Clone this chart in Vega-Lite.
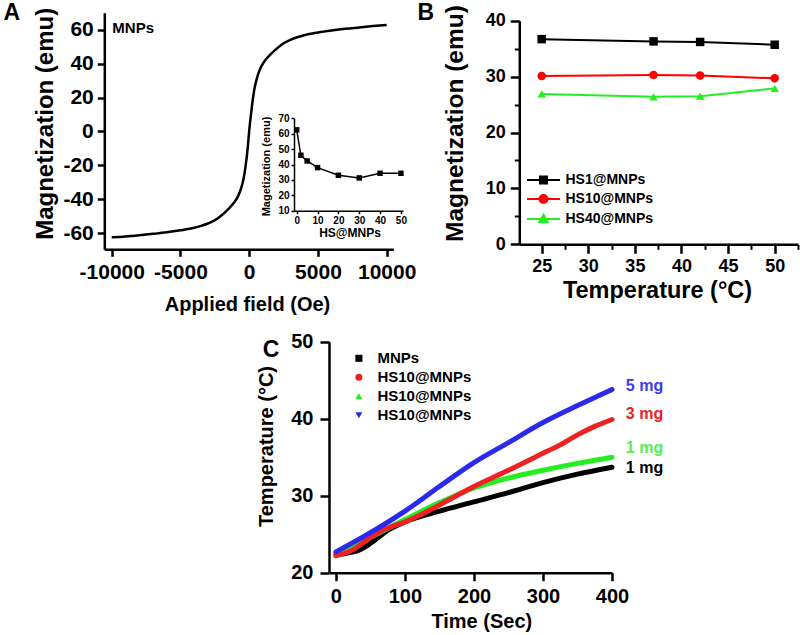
{
  "$schema": "https://vega.github.io/schema/vega-lite/v6.json",
  "width": 800,
  "height": 635,
  "autosize": {"type": "none"},
  "padding": 0,
  "background": "white",
  "config": {
    "view": {"stroke": null},
    "font": "Liberation Sans",
    "axis": {"grid": false, "domainColor": "black", "tickColor": "black", "labelColor": "black", "titleColor": "black", "labelFont": "Liberation Sans", "titleFont": "Liberation Sans", "labelFontWeight": "bold", "titleFontWeight": "bold", "labelFlush": false, "labelOverlap": false, "labelBound": false, "titleBaseline": "middle"},
    "legend": {"labelFont": "Liberation Sans", "labelFontWeight": "bold", "labelColor": "black", "padding": 0},
    "text": {"font": "Liberation Sans", "fontWeight": "bold", "color": "black"}
  },
  "datasets": {
    "magA": [
      {"H": -10000, "M": -62.4}, {"H": -9000, "M": -61.9}, {"H": -8000, "M": -61.2}, {"H": -7000, "M": -60.4}, {"H": -6000, "M": -59.5}, {"H": -5000, "M": -58.3}, {"H": -4000, "M": -56.8}, {"H": -3500, "M": -55.7}, {"H": -3000, "M": -54.3}, {"H": -2500, "M": -52.4}, {"H": -2000, "M": -49.4}, {"H": -1500, "M": -45.6}, {"H": -1250, "M": -43.4}, {"H": -1000, "M": -40.8}, {"H": -800, "M": -38.0}, {"H": -600, "M": -33.8}, {"H": -500, "M": -31.0}, {"H": -400, "M": -27.5}, {"H": -300, "M": -22.5}, {"H": -200, "M": -16.5}, {"H": -100, "M": -9.0}, {"H": 0, "M": 0.5}, {"H": 100, "M": 8.0}, {"H": 200, "M": 15.0}, {"H": 300, "M": 21.0}, {"H": 400, "M": 26.0}, {"H": 500, "M": 29.5}, {"H": 600, "M": 32.5}, {"H": 800, "M": 37.0}, {"H": 1000, "M": 40.0}, {"H": 1250, "M": 42.8}, {"H": 1500, "M": 45.0}, {"H": 2000, "M": 48.8}, {"H": 2500, "M": 52.0}, {"H": 3000, "M": 54.0}, {"H": 3500, "M": 55.5}, {"H": 4000, "M": 56.7}, {"H": 5000, "M": 58.3}, {"H": 6000, "M": 59.5}, {"H": 7000, "M": 60.5}, {"H": 8000, "M": 61.3}, {"H": 9000, "M": 62.1}, {"H": 10000, "M": 62.8}
    ],
    "annA": [{"H": -9956, "M": 61.0, "label": "MNPs"}],
    "letterA": [{"H": -17273, "M": 69.6, "label": "A"}],
    "inset": [
      {"n": 0, "Mi": 62.5}, {"n": 2, "Mi": 46.0}, {"n": 5, "Mi": 42.3}, {"n": 10, "Mi": 38.0}, {"n": 20, "Mi": 33.0}, {"n": 30, "Mi": 31.3}, {"n": 40, "Mi": 34.3}, {"n": 50, "Mi": 34.3}
    ],
    "tempB": [
      {"T": 25, "M": 36.7, "s": "HS1@MNPs"}, {"T": 37, "M": 36.3, "s": "HS1@MNPs"}, {"T": 42, "M": 36.2, "s": "HS1@MNPs"}, {"T": 50, "M": 35.7, "s": "HS1@MNPs"},
      {"T": 25, "M": 30.1, "s": "HS10@MNPs"}, {"T": 37, "M": 30.3, "s": "HS10@MNPs"}, {"T": 42, "M": 30.2, "s": "HS10@MNPs"}, {"T": 50, "M": 29.7, "s": "HS10@MNPs"},
      {"T": 25, "M": 26.9, "s": "HS40@MNPs"}, {"T": 37, "M": 26.4, "s": "HS40@MNPs"}, {"T": 42, "M": 26.5, "s": "HS40@MNPs"}, {"T": 50, "M": 27.9, "s": "HS40@MNPs"}
    ],
    "letterB": [{"T": 12.56, "M": 41.4, "label": "B"}],
    "heatC": [
      {"t": 0, "T": 22.3, "s": "MNPs 1 mg"}, {"t": 20, "T": 22.6, "s": "MNPs 1 mg"}, {"t": 35, "T": 23.0, "s": "MNPs 1 mg"}, {"t": 50, "T": 23.8, "s": "MNPs 1 mg"}, {"t": 75, "T": 25.5, "s": "MNPs 1 mg"}, {"t": 100, "T": 26.6, "s": "MNPs 1 mg"}, {"t": 150, "T": 28.0, "s": "MNPs 1 mg"}, {"t": 200, "T": 29.2, "s": "MNPs 1 mg"}, {"t": 250, "T": 30.4, "s": "MNPs 1 mg"}, {"t": 300, "T": 31.7, "s": "MNPs 1 mg"}, {"t": 350, "T": 32.8, "s": "MNPs 1 mg"}, {"t": 400, "T": 33.7, "s": "MNPs 1 mg"},
      {"t": 0, "T": 22.4, "s": "HS10@MNPs 1 mg"}, {"t": 50, "T": 24.6, "s": "HS10@MNPs 1 mg"}, {"t": 100, "T": 26.9, "s": "HS10@MNPs 1 mg"}, {"t": 150, "T": 29.1, "s": "HS10@MNPs 1 mg"}, {"t": 200, "T": 31.0, "s": "HS10@MNPs 1 mg"}, {"t": 250, "T": 32.3, "s": "HS10@MNPs 1 mg"}, {"t": 300, "T": 33.3, "s": "HS10@MNPs 1 mg"}, {"t": 350, "T": 34.2, "s": "HS10@MNPs 1 mg"}, {"t": 400, "T": 35.0, "s": "HS10@MNPs 1 mg"},
      {"t": 0, "T": 22.2, "s": "HS10@MNPs 3 mg"}, {"t": 25, "T": 23.0, "s": "HS10@MNPs 3 mg"}, {"t": 50, "T": 24.6, "s": "HS10@MNPs 3 mg"}, {"t": 75, "T": 25.8, "s": "HS10@MNPs 3 mg"}, {"t": 100, "T": 26.6, "s": "HS10@MNPs 3 mg"}, {"t": 150, "T": 28.8, "s": "HS10@MNPs 3 mg"}, {"t": 200, "T": 31.2, "s": "HS10@MNPs 3 mg"}, {"t": 250, "T": 33.3, "s": "HS10@MNPs 3 mg"}, {"t": 300, "T": 35.5, "s": "HS10@MNPs 3 mg"}, {"t": 325, "T": 36.6, "s": "HS10@MNPs 3 mg"}, {"t": 350, "T": 37.9, "s": "HS10@MNPs 3 mg"}, {"t": 375, "T": 39.0, "s": "HS10@MNPs 3 mg"}, {"t": 400, "T": 39.9, "s": "HS10@MNPs 3 mg"},
      {"t": 0, "T": 22.7, "s": "HS10@MNPs 5 mg"}, {"t": 50, "T": 25.2, "s": "HS10@MNPs 5 mg"}, {"t": 100, "T": 28.0, "s": "HS10@MNPs 5 mg"}, {"t": 150, "T": 31.2, "s": "HS10@MNPs 5 mg"}, {"t": 200, "T": 34.3, "s": "HS10@MNPs 5 mg"}, {"t": 250, "T": 36.9, "s": "HS10@MNPs 5 mg"}, {"t": 300, "T": 39.5, "s": "HS10@MNPs 5 mg"}, {"t": 350, "T": 41.7, "s": "HS10@MNPs 5 mg"}, {"t": 400, "T": 43.8, "s": "HS10@MNPs 5 mg"}
    ],
    "labelsC": [
      {"t": 420, "T": 44.2, "label": "5 mg", "s": "HS10@MNPs 5 mg"},
      {"t": 420, "T": 40.6, "label": "3 mg", "s": "HS10@MNPs 3 mg"},
      {"t": 420, "T": 36.2, "label": "1 mg", "s": "HS10@MNPs 1 mg"},
      {"t": 420, "T": 33.6, "label": "1 mg", "s": "MNPs 1 mg"}
    ],
    "letterC": [{"t": -94, "T": 48.9, "label": "C"}]
  },
  "resolve": {"scale": {"x": "independent", "y": "independent", "stroke": "independent", "fill": "independent", "shape": "independent", "color": "independent"}},
  "layer": [
    {
      "encoding": {
        "x": {"field": "H", "type": "quantitative",
          "scale": {"domain": [-10540, 10480], "range": [104.3, 393.3], "nice": false, "zero": false},
          "axis": {"orient": "bottom", "offset": -385.7, "values": [-10000, -5000, 0, 5000, 10000], "labelExpr": "'' + datum.value", "labelFontSize": 21, "labelPadding": 5, "tickSize": 7, "tickWidth": 2.5, "domainWidth": 2.5, "title": "Applied field (Oe)", "titleFontSize": 20, "titleX": 247, "titleY": 55.5}},
        "y": {"field": "M", "type": "quantitative",
          "scale": {"domain": [-69.5, 70], "range": [249.3, 12.7], "nice": false, "zero": false},
          "axis": {"orient": "left", "offset": -104.3, "values": [-60, -40, -20, 0, 20, 40, 60], "labelExpr": "'' + datum.value", "labelFontSize": 21, "labelPadding": 4, "tickSize": 7, "tickWidth": 2.5, "domainWidth": 2.5, "title": "Magnetization (emu)", "titleFontSize": 24, "titleX": -59.3, "titleY": 123.3}}
      },
      "layer": [
        {"data": {"name": "magA"}, "mark": {"type": "line", "color": "black", "strokeWidth": 2.5, "interpolate": "monotone"}},
        {"data": {"name": "annA"}, "mark": {"type": "text", "align": "left", "fontSize": 15}, "encoding": {"text": {"field": "label"}}},
        {"data": {"name": "letterA"}, "mark": {"type": "text", "fontSize": 23}, "encoding": {"text": {"field": "label"}}}
      ]
    },
    {
      "data": {"name": "inset"},
      "encoding": {
        "x": {"field": "n", "type": "quantitative",
          "scale": {"domain": [-1.3, 51], "range": [294, 403], "nice": false, "zero": false},
          "axis": {"orient": "bottom", "offset": -424.3, "values": [0, 10, 20, 30, 40, 50], "labelFontSize": 10, "labelPadding": 2, "tickSize": 3, "tickWidth": 1.5, "domainWidth": 1.5, "title": "HS@MNPs", "titleFontSize": 12, "titleX": 349.5, "titleY": 22}},
        "y": {"field": "Mi", "type": "quantitative",
          "scale": {"domain": [10, 70], "range": [210.7, 118.3], "nice": false, "zero": false},
          "axis": {"orient": "left", "offset": -294, "values": [10, 20, 30, 40, 50, 60, 70], "labelFontSize": 10, "labelPadding": 2, "tickSize": 3, "tickWidth": 1.5, "domainWidth": 1.5, "title": "Magetization (emu)", "titleFontSize": 11, "titleX": -27.3, "titleY": 166}}
      },
      "layer": [
        {"mark": {"type": "line", "color": "black", "strokeWidth": 1.5}},
        {"mark": {"type": "point", "shape": "square", "filled": true, "color": "black", "size": 30, "opacity": 1}}
      ]
    },
    {
      "encoding": {
        "x": {"field": "T", "type": "quantitative",
          "scale": {"domain": [22.6, 52.5], "range": [519.3, 798], "nice": false, "zero": false},
          "axis": {"orient": "bottom", "offset": -390.7, "values": [25, 30, 35, 40, 45, 50], "labelFontSize": 18, "labelPadding": 4, "tickSize": 9, "tickWidth": 2.5, "domainWidth": 2.5, "title": "Temperature (°C)", "titleFontSize": 23.5, "titleX": 657, "titleY": 46.5}},
        "y": {"field": "M", "type": "quantitative",
          "scale": {"domain": [0, 40], "range": [244.3, 20.7], "nice": false, "zero": false},
          "axis": {"orient": "left", "offset": -519.3, "values": [0, 10, 20, 30, 40], "labelFontSize": 18, "labelPadding": 5, "tickSize": 9, "tickWidth": 2.5, "domainWidth": 2.5, "title": "Magnetization (emu)", "titleFontSize": 24.5, "titleX": -64.3, "titleY": 123}}
      },
      "layer": [
        {"data": {"name": "tempB"}, "transform": [{"filter": "datum.T < 0"}], "mark": {"type": "point", "filled": true, "size": 100, "opacity": 1, "strokeWidth": 2},
          "encoding": {
            "stroke": {"field": "s", "type": "nominal",
              "scale": {"domain": ["HS1@MNPs", "HS10@MNPs", "HS40@MNPs"], "range": ["#000000", "#ff0000", "#22ee22"]},
              "legend": {"orient": "none", "legendX": 536.5, "legendY": 173, "title": null, "symbolSize": 100, "symbolStrokeWidth": 2, "labelFontSize": 14, "labelOffset": 15, "rowPadding": 3}},
            "fill": {"field": "s", "type": "nominal",
              "scale": {"domain": ["HS1@MNPs", "HS10@MNPs", "HS40@MNPs"], "range": ["#000000", "#ff0000", "#22ee22"]},
              "legend": {"orient": "none", "legendX": 536.5, "legendY": 173, "title": null, "symbolSize": 100, "symbolStrokeWidth": 2, "labelFontSize": 14, "labelOffset": 15, "rowPadding": 3}},
            "shape": {"field": "s", "type": "nominal",
              "scale": {"domain": ["HS1@MNPs", "HS10@MNPs", "HS40@MNPs"], "range": ["M-3.3,0H3.3M-0.7,-0.7H0.7V0.7H-0.7Z", "M-3.3,0H3.3M-0.8,0A0.8,0.8,0,1,1,0.8,0A0.8,0.8,0,1,1,-0.8,0Z", "M-3.3,0H3.3M0,-0.85L0.85,0.65H-0.85Z"]},
              "legend": {"orient": "none", "legendX": 536.5, "legendY": 173, "title": null, "symbolSize": 100, "symbolStrokeWidth": 2, "labelFontSize": 14, "labelOffset": 15, "rowPadding": 3}}}},
        {"data": {"name": "letterB"}, "mark": {"type": "text", "fontSize": 23}, "encoding": {"text": {"field": "label"}}}
      ]
    },
    {
      "data": {"name": "tempB"},
      "encoding": {
        "x": {"field": "T", "type": "quantitative",
          "scale": {"domain": [22.6, 52.5], "range": [519.3, 798], "nice": false, "zero": false},
          "axis": {"orient": "bottom", "offset": -390.7, "values": [27.5, 32.5, 37.5, 42.5, 47.5, 52.5], "labels": false, "domain": false, "tickSize": 5, "tickWidth": 2, "title": null}},
        "y": {"field": "M", "type": "quantitative",
          "scale": {"domain": [0, 40], "range": [244.3, 20.7], "nice": false, "zero": false},
          "axis": {"orient": "left", "offset": -519.3, "values": [5, 15, 25, 35], "labels": false, "domain": false, "tickSize": 5, "tickWidth": 2, "title": null}}
      },
      "layer": [
        {"mark": {"type": "line", "strokeWidth": 2},
          "encoding": {"stroke": {"field": "s", "type": "nominal",
            "scale": {"domain": ["HS1@MNPs", "HS10@MNPs", "HS40@MNPs"], "range": ["#000000", "#ff0000", "#22ee22"]},
            "legend": null}}},
        {"mark": {"type": "point", "filled": true, "size": 72, "opacity": 1},
          "encoding": {
            "fill": {"field": "s", "type": "nominal",
              "scale": {"domain": ["HS1@MNPs", "HS10@MNPs", "HS40@MNPs"], "range": ["#000000", "#ff0000", "#22ee22"]},
              "legend": null},
            "shape": {"field": "s", "type": "nominal",
              "scale": {"domain": ["HS1@MNPs", "HS10@MNPs", "HS40@MNPs"], "range": ["square", "circle", "triangle-up"]},
              "legend": null}}}
      ]
    },
    {
      "encoding": {
        "x": {"field": "t", "type": "quantitative",
          "scale": {"domain": [-10, 400], "range": [329, 612], "nice": false, "zero": false},
          "axis": {"orient": "bottom", "offset": -62.3, "values": [0, 100, 200, 300, 400], "labelFontSize": 20, "labelPadding": 6, "tickSize": 8, "tickWidth": 2.5, "domainWidth": 2.5, "title": "Time (Sec)", "titleFontSize": 20, "titleX": 481.3, "titleY": 49}},
        "y": {"field": "T", "type": "quantitative",
          "scale": {"domain": [20, 50], "range": [572.7, 341.7], "nice": false, "zero": false},
          "axis": {"orient": "left", "offset": -329, "values": [20, 30, 40, 50], "labelFontSize": 20, "labelPadding": 7, "tickSize": 9, "tickWidth": 2.5, "domainWidth": 2.5, "title": "Temperature (°C)", "titleFontSize": 20, "titleX": -62.3, "titleY": 446}}
      },
      "layer": [
        {"data": {"name": "heatC"}, "mark": {"type": "line", "strokeWidth": 5, "strokeCap": "round", "interpolate": "monotone"},
          "encoding": {"stroke": {"field": "s", "type": "nominal",
            "scale": {"domain": ["MNPs 1 mg", "HS10@MNPs 1 mg", "HS10@MNPs 3 mg", "HS10@MNPs 5 mg"], "range": ["#000000", "#22ee22", "#ee2222", "#2a2aee"]},
            "legend": null}}},
        {"data": {"name": "heatC"}, "transform": [{"filter": "datum.t < -100"}], "mark": {"type": "point", "filled": true, "size": 50, "opacity": 1},
          "encoding": {
            "fill": {"field": "s", "type": "nominal",
              "scale": {"domain": ["MNPs 1 mg", "HS10@MNPs 3 mg", "HS10@MNPs 1 mg", "HS10@MNPs 5 mg"], "range": ["#000000", "#ee2222", "#22ee22", "#2a2aee"]},
              "legend": {"orient": "none", "legendX": 351.4, "legendY": 350.8, "title": null, "symbolSize": 50, "labelFontSize": 15, "labelOffset": 11, "rowPadding": 3, "labelExpr": "split(datum.label, ' ')[0]"}},
            "shape": {"field": "s", "type": "nominal",
              "scale": {"domain": ["MNPs 1 mg", "HS10@MNPs 3 mg", "HS10@MNPs 1 mg", "HS10@MNPs 5 mg"], "range": ["square", "circle", "triangle-up", "triangle-down"]},
              "legend": {"orient": "none", "legendX": 351.4, "legendY": 350.8, "title": null, "symbolSize": 50, "labelFontSize": 15, "labelOffset": 11, "rowPadding": 3, "labelExpr": "split(datum.label, ' ')[0]"}}}},
        {"data": {"name": "labelsC"}, "mark": {"type": "text", "align": "left", "fontSize": 16},
          "encoding": {"text": {"field": "label"}, "color": {"field": "s", "type": "nominal",
            "scale": {"domain": ["MNPs 1 mg", "HS10@MNPs 1 mg", "HS10@MNPs 3 mg", "HS10@MNPs 5 mg"], "range": ["#000000", "#55ee55", "#ee2222", "#3a3aee"]},
            "legend": null}}},
        {"data": {"name": "letterC"}, "mark": {"type": "text", "fontSize": 23}, "encoding": {"text": {"field": "label"}}}
      ]
    }
  ]
}
